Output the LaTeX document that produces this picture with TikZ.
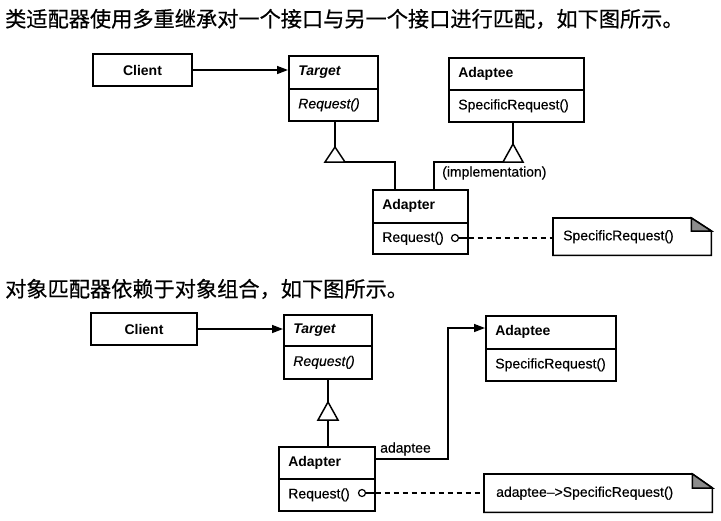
\documentclass[tikz,border=0pt]{standalone}
\usepackage{fontspec}
\setmainfont{Liberation Sans}[UprightFeatures={FakeBold=0.4},ItalicFeatures={FakeBold=0.4}]
\newfontfamily\cjk[FakeBold=0.5]{Noto Sans CJK SC}
\usetikzlibrary{arrows.meta,calc}
\begin{document}
\begin{tikzpicture}[x=1pt,y=-1pt,
  every node/.style={font=\fontsize{14}{16}\selectfont},
  box/.style={draw, line width=1.6pt, inner sep=0pt},
  cls/.style={box, anchor=north west, inner xsep=9.5pt, inner ysep=0pt, align=left},
  ln/.style={line width=1.5pt},
  assoc/.style={ln, -{Triangle[length=11pt,width=8pt]}},
  dashln/.style={line width=1.3pt, dash pattern=on 5pt off 4pt},
  zh/.style={font=\cjk\fontsize{21.2}{24}\selectfont, anchor=west, inner sep=0pt},
  notebox/.style={inner xsep=10pt, inner ysep=0pt, anchor=north west, align=left},
  lollipop/.style={circle, draw, line width=1.2pt, minimum size=7pt, inner sep=0pt},
  plain/.style={anchor=west, inner sep=0pt}
]
\fill[white] (0,0) rectangle (721,520);
\useasboundingbox (0,0) rectangle (721,520);

% ---------- top: class adapter ----------
\node[zh] (h1) at (5,19) {类适配器使用多重继承对一个接口与另一个接口进行匹配，如下图所示。};

\node[box, minimum width=99pt, minimum height=32pt] (c1) at (142.5,70) {\bfseries Client};
\node[cls, text width=70pt, minimum height=33pt] (t1h) at (288,55) {\bfseries\itshape Target};
\node[cls, text width=70pt, minimum height=32pt] (t1m) at (288,88) {\itshape Request()};
\node[cls, text width=116pt, minimum height=32pt] (e1h) at (448,57) {\bfseries Adaptee};
\node[cls, text width=116pt, minimum height=32pt] (e1m) at (448,89) {SpecificRequest()};
\node[cls, text width=76pt, minimum height=33pt] (a1h) at (372,189) {\bfseries Adapter};
\node[cls, text width=76pt, minimum height=31pt] (a1m) at (372,222) {Request()};
\node[notebox, text width=138pt, minimum height=37pt] (n1) at (553,218) {SpecificRequest()};
\node[plain] (impl) at (442,173) {(implementation)};
\node[lollipop] (o1) at (455,238) {};

\draw[box] (n1.north west) -- ([xshift=-20pt]n1.north east) -- ([yshift=-13pt]n1.north east) -- (n1.south east) -- (n1.south west) -- cycle;
\draw[ln, fill=black!45] ([xshift=-20pt]n1.north east) -- ([xshift=-20pt,yshift=-13pt]n1.north east) -- ([yshift=-13pt]n1.north east) -- cycle;

\draw[assoc] (c1.east) -- (c1.east -| t1h.west);

\coordinate (g1) at (335,162);
\coordinate (k1) at (395,162);
\draw[ln] (a1h.north -| k1) -- (k1) -- (g1);
\draw[ln, fill=white] ($(g1)+(-10,0)$) -- ($(g1)+(10,0)$) -- ($(g1)+(0,-15)$) -- cycle;
\draw[ln] ($(g1)+(0,-15)$) -- (t1m.south -| g1);

\coordinate (g2) at (513,162);
\coordinate (k2) at (434,162);
\draw[ln] (a1h.north -| k2) -- (k2) -- (g2);
\draw[ln, fill=white] ($(g2)+(-10,0)$) -- ($(g2)+(10,0)$) -- ($(g2)+(0,-18)$) -- cycle;
\draw[ln] ($(g2)+(0,-18)$) -- (e1m.south -| g2);

\draw[ln] (o1.east) -- (o1.east -| a1m.east);
\draw[dashln] (o1.east -| a1m.east) -- (o1.east -| n1.west);

% ---------- bottom: object adapter ----------
\node[zh] (h2) at (5,289) {对象匹配器依赖于对象组合，如下图所示。};

\node[box, minimum width=106pt, minimum height=32pt] (c2) at (144,329) {\bfseries Client};
\node[cls, text width=69pt, minimum height=31pt] (t2h) at (283,314) {\bfseries\itshape Target};
\node[cls, text width=69pt, minimum height=33pt] (t2m) at (283,345) {\itshape Request()};
\node[cls, text width=111pt, minimum height=33pt] (e2h) at (485,315) {\bfseries Adaptee};
\node[cls, text width=111pt, minimum height=32pt] (e2m) at (485,348) {SpecificRequest()};
\node[cls, text width=77pt, minimum height=32pt] (a2h) at (278,446) {\bfseries Adapter};
\node[cls, text width=77pt, minimum height=32pt] (a2m) at (278,478) {Request()};
\node[notebox, inner xsep=12pt, text width=204pt, minimum height=38pt] (n2) at (484,474) {adaptee–>SpecificRequest()};
\node[plain] (lab) at (380,449) {adaptee};
\node[lollipop] (o2) at (362,493) {};

\draw[box] (n2.north west) -- ([xshift=-20pt]n2.north east) -- ([yshift=-14pt]n2.north east) -- (n2.south east) -- (n2.south west) -- cycle;
\draw[ln, fill=black!45] ([xshift=-20pt]n2.north east) -- ([xshift=-20pt,yshift=-14pt]n2.north east) -- ([yshift=-14pt]n2.north east) -- cycle;

\draw[assoc] (c2.east) -- (c2.east -| t2h.west);

\coordinate (g3) at (328,420);
\draw[ln] (a2h.north -| g3) -- (g3);
\draw[ln, fill=white] ($(g3)+(-10,0)$) -- ($(g3)+(10,0)$) -- ($(g3)+(0,-18)$) -- cycle;
\draw[ln] ($(g3)+(0,-18)$) -- (t2m.south -| g3);

\coordinate (k3a) at (448,459);
\coordinate (k3b) at (448,328);
\draw[assoc] (k3a -| a2h.east) -- (k3a) -- (k3b) -- (k3b -| e2h.west);

\draw[ln] (o2.east) -- (o2.east -| a2m.east);
\draw[dashln] (o2.east -| a2m.east) -- (o2.east -| n2.west);
\end{tikzpicture}
\end{document}
